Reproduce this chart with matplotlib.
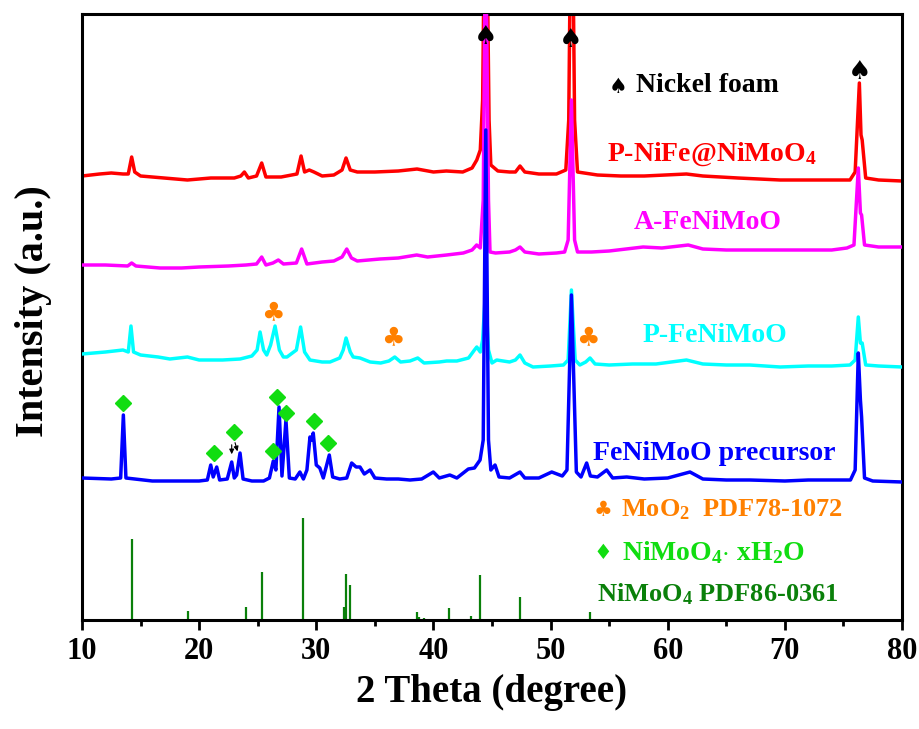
import numpy as np
import matplotlib
matplotlib.use("Agg")
import matplotlib.pyplot as plt

plt.rcParams['font.family'] = ['Liberation Serif', 'DejaVu Sans']
plt.rcParams['font.weight'] = 'bold'
plt.rcParams['mathtext.fontset'] = 'custom'
plt.rcParams['mathtext.rm'] = 'Liberation Serif:bold'
plt.rcParams['mathtext.bf'] = 'Liberation Serif:bold'
plt.rcParams['mathtext.default'] = 'bf'

# --- XRD patterns (2theta, intensity a.u. with offsets) ---
blue_x = [10, 12.5, 13.3, 13.53, 13.75, 14.5, 16, 18, 20, 20.7, 20.99, 21.2, 21.5, 21.75,
          22.4, 22.78, 23.0, 23.2, 23.49, 23.75, 24.5, 25.5, 26.0, 26.33, 26.55, 26.82,
          27.07, 27.41, 27.7, 28.2, 28.6, 28.9, 29.2, 29.46, 29.6, 29.74, 30.0, 30.3, 30.6,
          31.11, 31.4, 32.0, 32.6, 33.02, 33.4, 33.73, 34.1, 34.59, 35.0, 36.0, 37.0, 38.0,
          39.0, 39.99, 40.5, 41.4, 42.0, 42.98, 43.5, 43.98, 44.25, 44.47, 44.7, 44.9, 45.26,
          45.6, 46.5, 47.39, 47.8, 49, 50.1, 51.0, 51.4, 51.78, 52.2, 52.6, 53.08, 53.4, 54.0,
          54.79, 55.3, 56.5, 58, 60, 61.9, 63, 65, 67, 70, 72, 74, 75.6, 76.0, 76.27, 76.45,
          76.55, 76.8, 77.5, 80]
blue_y = [142, 141, 142, 205, 142, 141, 139, 139, 139, 140, 155, 143, 153, 140,
          141, 158, 142, 145, 167, 141, 139, 139, 142, 159, 150, 213,
          144, 200, 142, 141, 148, 141, 150, 183, 180, 187, 155, 152, 142,
          165, 143, 141, 142, 157, 153, 153, 146, 150, 142, 141, 141, 140,
          141, 148, 142, 145, 142, 151, 152, 160, 180, 490, 180, 150, 155,
          143, 142, 148, 142, 142, 148, 144, 150, 325, 148, 143, 157, 144, 143,
          150, 142, 143, 141, 142, 148, 141, 140, 140, 139, 140, 140, 140, 150, 267, 220,
          203, 142, 139, 138]

cyan_x = [10, 12, 13.5, 13.95, 14.18, 14.4, 15, 16.5, 17.5, 19.0, 20, 22, 23.5, 24.5, 24.95,
          25.2, 25.5, 25.77, 26.1, 26.48, 26.85, 27.19, 27.5, 28.3, 28.66, 29.0, 29.46, 30.5,
          31.17, 32.0, 32.3, 32.54, 32.9, 33.15, 33.73, 34.6, 35.5, 36.2, 36.7, 37.2, 38.0,
          38.66, 39.2, 40.5, 41.13, 42.0, 43.0, 43.5, 43.7, 44.0, 44.2, 44.45, 44.7, 45.0,
          45.4, 46.5, 47.0, 47.39, 47.8, 48.5, 50, 51.1, 51.5, 51.78, 52.1, 52.5, 53.0, 53.37,
          53.8, 55, 57, 59, 61.6, 63, 65, 67, 69.6, 72, 74, 75.56, 76.0, 76.27, 76.45, 76.6,
          76.9, 78, 80]
cyan_y = [266, 268, 270, 268, 294, 268, 265, 263, 261, 263, 260, 260, 261, 264, 270,
          288, 270, 265, 275, 294, 270, 263, 263, 270, 293, 268, 260, 258,
          258, 262, 270, 282, 268, 263, 262, 258, 257, 259, 263, 258, 259,
          262, 257, 258, 259, 259, 262, 270, 273, 268, 280, 330, 270, 257,
          260, 258, 260, 265, 257, 253, 254, 255, 260, 330, 260, 255, 258, 262,
          256, 255, 256, 256, 260, 256, 255, 255, 253, 254, 254, 255, 260, 303, 277, 277,
          255, 254, 253]

magenta_x = [10, 12, 13.9, 14.24, 14.6, 16.66, 18.5, 20, 22.5, 24, 24.9, 25.34, 25.7, 26.3,
             26.76, 27.2, 28.3, 28.75, 29.2, 30.5, 31.5, 32.2, 32.6, 33.0, 33.5, 35.44, 37,
             38.57, 39.5, 41.13, 42.55, 43.3, 43.69, 44.0, 44.25, 44.45, 44.7, 44.83, 45.3,
             46.5, 47.0, 47.39, 47.8, 49, 50.5, 51.2, 51.5, 51.78, 52.05, 52.3, 53.5, 55,
             57.9, 59.5, 61.75, 63, 65, 68, 72, 74, 75.3, 75.9, 76.27, 76.45, 76.55, 76.8,
             78, 80]
magenta_y = [355, 355, 354, 357, 354, 352, 352, 353, 354, 355, 356, 363, 355, 357,
             360, 356, 357, 371, 356, 358, 359, 363, 371, 362, 359, 361, 362,
             365, 363, 365, 367, 370, 375, 372, 420, 700, 420, 368, 367,
             368, 370, 373, 368, 366, 367, 368, 380, 520, 380, 368, 368, 369,
             373, 372, 375, 371, 370, 370, 370, 370, 372, 375, 452, 407, 405, 375,
             373, 373]

red_x = [10, 11.5, 12.5, 13.5, 13.95, 14.24, 14.5, 15, 17, 19, 21, 23, 23.56, 23.86, 24.2,
         24.9, 25.34, 25.7, 27, 28.35, 28.7, 29.0, 29.4, 29.8, 30.5, 31.5, 32.2, 32.54, 32.9,
         33.5, 35.0, 37.0, 38.6, 40.0, 41.1, 42.5, 43.3, 43.7, 44.0, 44.2, 44.45, 44.75,
         44.9, 45.5, 46.5, 47.0, 47.39, 47.8, 49, 50.5, 51.3, 51.55, 51.8, 52.05, 52.3, 54,
         56, 58, 61.6, 63, 66, 69.6, 72, 75.56, 76.0, 76.36, 76.5, 76.6, 76.9, 78, 80]
red_y = [444, 446, 447, 446, 446, 463, 448, 444, 442, 440, 442, 442, 444, 448, 442,
         444, 457, 443, 443, 446, 464, 448, 450, 448, 444, 445, 450, 462, 450,
         448, 448, 449, 451, 448, 449, 448, 452, 460, 470, 520, 800, 500,
         455, 449, 448, 448, 454, 448, 446, 446, 450, 500, 800, 500, 448, 445,
         444, 444, 446, 444, 442, 440, 440, 440, 448, 537, 485, 480, 442, 440, 439]

# NiMoO4 PDF86-0361 reference lines
ref_pos = [14.26, 19.06, 24.0, 25.36, 28.85, 32.34, 32.5, 32.84, 38.64, 38.8, 39.2,
           41.3, 43.2, 43.94, 47.43, 53.4]
ref_int = [81, 9, 13, 48, 102, 13, 46, 35, 8, 3, 2, 12, 4, 45, 23, 8]

# phase markers
diamond_x = [13.53, 21.27, 22.98, 26.33, 26.68, 27.41, 29.83, 30.97]
diamond_y = [217, 167, 188, 169, 223, 207, 199, 177]
club_x = [26.33, 36.55, 53.2]
club_y = [307, 282, 282]
spade_x = [44.45, 51.75, 76.36]
spade_y = [583, 580, 548]

fig = plt.figure(figsize=(9.2, 7.29), dpi=100)
ax = fig.add_axes([82 / 920, 1 - 620 / 729, 820 / 920, 606 / 729])

lw = 2.5
ax.plot(red_x, red_y, color='#ff0000', lw=lw, zorder=2)
ax.plot(magenta_x, magenta_y, color='#ff00ff', lw=lw, zorder=3)
ax.plot(cyan_x, cyan_y, color='#00ffff', lw=lw, zorder=4)
ax.plot(blue_x, blue_y, color='#0000ff', lw=lw, zorder=5)
ax.vlines(ref_pos, 0, ref_int, color='#0a800a', lw=1.6, zorder=2)

ax.plot(diamond_x, diamond_y, 'D', color='#11dd11', ms=8, zorder=6, clip_on=False)
for x, y in zip(club_x, club_y):
    ax.text(x, y, '\u2663', color='#ff8000', fontsize=19, ha='center', va='center',
            family=['DejaVu Sans'], zorder=6)
for x, y in zip(spade_x, spade_y):
    ax.text(x, y, '\u2660', color='black', fontsize=19, ha='center', va='center',
            family=['DejaVu Sans'], zorder=6)

ax.annotate('', xy=(22.78, 163), xytext=(22.78, 178),
            arrowprops=dict(arrowstyle='-|>', color='black', lw=0.8, mutation_scale=7))
ax.annotate('', xy=(23.34, 166), xytext=(23.0, 180),
            arrowprops=dict(arrowstyle='-|>', color='black', lw=0.8, mutation_scale=7))

# labels
fs = 20
ax.text(55.76, 533, '\u2660', color='black', fontsize=15, ha='center', va='center',
        family=['DejaVu Sans'])
ax.text(57.3, 535, 'Nickel foam', color='black', fontsize=fs, va='center')
ax.text(54.85, 466, 'P-NiFe@NiMoO$_4$', color='#ff0000', fontsize=fs, va='center')
ax.text(57.1, 398, 'A-FeNiMoO', color='#ff00ff', fontsize=fs, va='center')
ax.text(57.85, 285, 'P-FeNiMoO', color='#00ffff', fontsize=fs, va='center')
ax.text(53.6, 167, 'FeNiMoO precursor', color='#0000ff', fontsize=fs, va='center')
ax.text(54.5, 110, '\u2663', color='#ff8000', fontsize=15, ha='center', va='center',
        family=['DejaVu Sans'])
ax.text(56.0, 110, 'MoO$_2$  PDF78-1072', color='#ff8000', fontsize=19, va='center')
ax.text(54.5, 67, '\u2666', color='#11dd11', fontsize=15, ha='center', va='center',
        family=['DejaVu Sans'])
ax.text(56.1, 67, 'NiMoO$_4$$\\cdot$ xH$_2$O', color='#11dd11', fontsize=fs, va='center')
ax.text(54.0, 26, 'NiMoO$_4$ PDF86-0361', color='#0a800a', fontsize=19, va='center')

ax.set_xlim(10, 80)
ax.set_ylim(0, 606)
ax.set_xticks(np.arange(10, 81, 10))
ax.set_xticks(np.arange(15, 80, 10), minor=True)
ax.set_yticks([])
ax.tick_params(axis='x', which='major', direction='out', length=7, width=2, labelsize=22, pad=5)
ax.tick_params(axis='x', which='minor', direction='out', length=4, width=2)
for lab in ax.get_xticklabels():
    lab.set_fontweight('bold')
for sp in ax.spines.values():
    sp.set_linewidth(2.2)

ax.set_xlabel('2 Theta (degree)', fontsize=28, fontweight='bold', labelpad=6)
ax.set_ylabel('Intensity (a.u.)', fontsize=29, fontweight='bold')
ax.yaxis.set_label_coords(-0.037, 0.51)

fig.savefig('out.png', dpi=100)
